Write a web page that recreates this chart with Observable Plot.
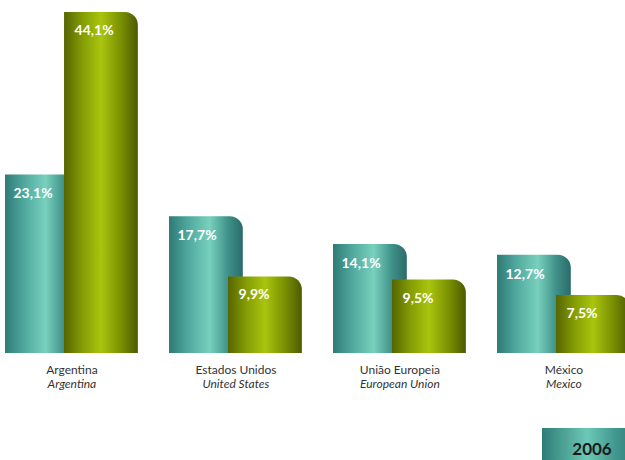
<!DOCTYPE html>
<html><head><meta charset="utf-8">
<script src="https://cdn.jsdelivr.net/npm/d3@7"></script>
<script src="https://cdn.jsdelivr.net/npm/@observablehq/plot@0.6"></script>
<style>
body{margin:0;background:#fff;width:625px;height:460px;overflow:hidden;position:relative;font-family:Lato,"Open Sans",sans-serif}
#legend{position:absolute;left:542px;top:428px;width:100px;height:40px;box-sizing:border-box;
 background:linear-gradient(90deg,#2f7d77 0%,#6cc8b6 45%,#3f958c 75%,#2d746f 100%);
 color:#1b1b1b;font-weight:bold;font-size:17px;line-height:42px;text-align:center;letter-spacing:0px}
</style></head><body>
<div id="chart"></div>
<div id="legend">2006</div>
<script>
const countries = ["Argentina", "Estados Unidos", "União Europeia", "México"];
const countriesEn = ["Argentina", "United States", "European Union", "Mexico"];
const seriesTeal = [23.1, 17.7, 14.1, 12.7];
const seriesGreen = [44.1, 9.9, 9.5, 7.5];
const legendLabels = ["2006"];

const fmt = v => v.toFixed(1).replace(".", ",") + "%";
const rows = countries.map((c, i) => ({i, c, en: countriesEn[i], teal: seriesTeal[i], green: seriesGreen[i]}));
const W = 0.45, OFF = 0.36;

const svg = Plot.plot({
  width: 625, height: 400,
  marginTop: 0, marginBottom: 0, marginLeft: 0, marginRight: 0,
  x: {domain: [0, 4], range: [5, 661], axis: null},
  y: {domain: [0, 44.1], range: [353, 12], axis: null},
  marks: [
    Plot.rect(rows, {x1: d => d.i, x2: d => d.i + W, y1: 0, y2: "teal", fill: "url(#gTeal)"}),
    Plot.rect(rows, {x1: d => d.i + OFF, x2: d => d.i + OFF + W, y1: 0, y2: "green", fill: "url(#gGreen)"}),
    Plot.text(rows, {x: d => d.i, y: "teal", text: d => fmt(d.teal), textAnchor: "start", dx: 8, dy: 19,
      fill: "white", fontWeight: "bold", fontSize: 14, lineAnchor: "middle"}),
    Plot.text(rows, {x: d => d.i + OFF, y: "green", text: d => fmt(d.green), textAnchor: "start", dx: 10, dy: 18,
      fill: "white", fontWeight: "bold", fontSize: 14, lineAnchor: "middle"}),
    Plot.text(rows, {x: d => d.i + (OFF + W) / 2, y: 0, text: "c", dy: 17, fontSize: 12, fill: "#333", lineAnchor: "middle"}),
    Plot.text(rows, {x: d => d.i + (OFF + W) / 2, y: 0, text: "en", dy: 31, fontSize: 12, fill: "#333", fontStyle: "italic", lineAnchor: "middle"})
  ]
});
svg.style.fontFamily = "Lato, 'Open Sans', sans-serif";
svg.style.overflow = "hidden";

const s = d3.select(svg);
const defs = s.insert("defs", ":first-child");
function grad(id, stops) {
  const g = defs.append("linearGradient").attr("id", id).attr("x1", 0).attr("x2", 1).attr("y1", 0).attr("y2", 0);
  stops.forEach(([o, c]) => g.append("stop").attr("offset", o).attr("stop-color", c));
}
grad("gTeal", [[0, "#2f7a75"], [0.25, "#4ea79c"], [0.55, "#78d0bd"], [0.8, "#3f9189"], [1, "#2a6b68"]]);
grad("gGreen", [[0, "#566500"], [0.25, "#859d05"], [0.5, "#a9c50d"], [0.78, "#788e02"], [1, "#4d5a00"]]);

s.selectAll("rect").each(function () {
  const r = d3.select(this);
  const x = +r.attr("x"), y = +r.attr("y"), w = +r.attr("width"), h = +r.attr("height");
  const rad = Math.min(13, w / 2, h / 2);
  const p = `M${x},${y + h}V${y}H${x + w - rad}A${rad},${rad} 0 0 1 ${x + w},${y + rad}V${y + h}Z`;
  this.parentNode.insertBefore(document.createElementNS("http://www.w3.org/2000/svg", "path"), this).setAttribute("d", p);
  r.remove();
});

document.getElementById("chart").appendChild(svg);
document.getElementById("legend").textContent = legendLabels[0];
</script>
</body></html>
